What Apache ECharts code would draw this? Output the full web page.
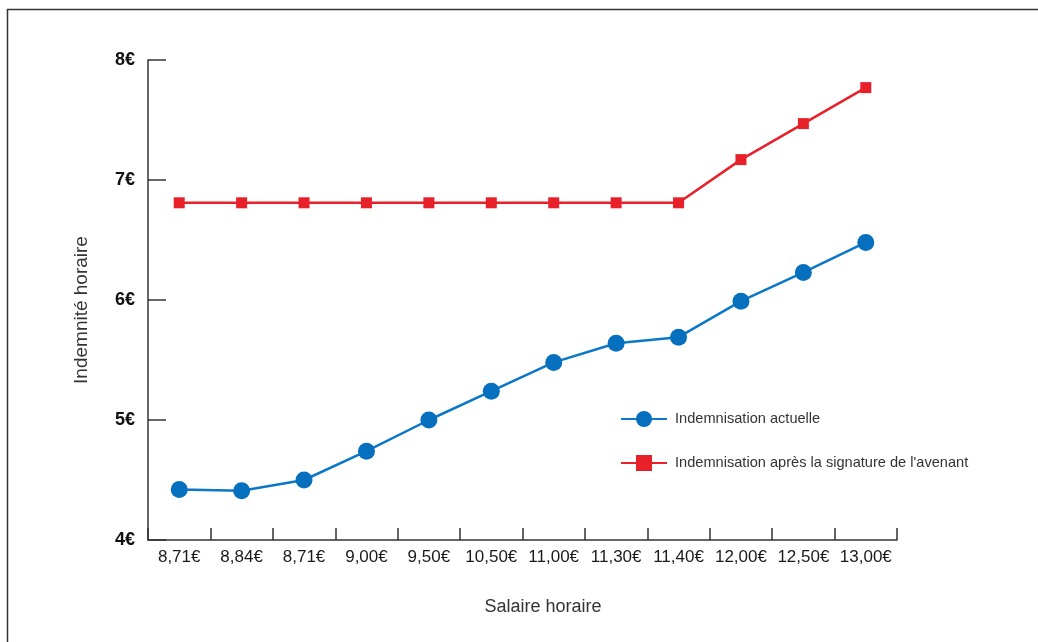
<!DOCTYPE html>
<html>
<head>
<meta charset="utf-8">
<script src="https://cdn.jsdelivr.net/npm/echarts@6/dist/echarts.min.js"></script>
<style>
html,body{margin:0;padding:0;background:#fff;}
#chart{width:1038px;height:642px;}
</style>
</head>
<body>
<div id="chart"></div>
<script>
const categories = ['8,71€','8,84€','8,71€','9,00€','9,50€','10,50€','11,00€','11,30€','11,40€','12,00€','12,50€','13,00€'];
const actuelle = [4.42,4.41,4.50,4.74,5.00,5.24,5.48,5.64,5.69,5.99,6.23,6.48];
const apres = [6.81,6.81,6.81,6.81,6.81,6.81,6.81,6.81,6.81,7.17,7.47,7.77];
const yTicks = ['4€','5€','6€','7€','8€'];
const seriesNames = ['Indemnisation actuelle',"Indemnisation après la signature de l'avenant"];

const FONT = '"Liberation Sans", Arial, sans-serif';
const chart = echarts.init(document.getElementById('chart'));
chart.setOption({
  backgroundColor:'#fff',
  animation:false,
  grid:{left:148,top:60,right:141,bottom:102,containLabel:false},
  graphic:[
    {type:'polyline',shape:{points:[[7.5,642],[7.5,9.5],[1038,9.5]]},style:{stroke:'#333',lineWidth:1.5,fill:null}},
    {type:'text',x:543,y:607,style:{text:'Salaire horaire',font:'18px '+FONT,fill:'#333',textAlign:'center',textVerticalAlign:'middle'}},
    {type:'text',rotation:Math.PI/2,x:82,y:310,style:{text:'Indemnité horaire',font:'19px '+FONT,fill:'#333',textAlign:'center',textVerticalAlign:'middle'}}
  ],
  legend:{
    orient:'vertical',left:615,top:406,itemGap:28,itemWidth:46,itemHeight:20,
    textStyle:{fontSize:14.6,color:'#333',fontFamily:FONT,padding:[0,0,0,3]},
    data:seriesNames
  },
  xAxis:{
    type:'category',data:categories,boundaryGap:true,
    axisLine:{lineStyle:{color:'#333',width:1.5}},
    axisTick:{show:true,inside:true,length:12,interval:0,lineStyle:{color:'#333',width:1.5}},
    axisLabel:{interval:0,margin:9,fontSize:17,color:'#1a1a1a',fontFamily:FONT}
  },
  yAxis:{
    type:'value',min:4,max:8,interval:1,
    axisLine:{show:true,lineStyle:{color:'#333',width:1.5}},
    axisTick:{show:true,inside:true,length:18,lineStyle:{color:'#333',width:1.5}},
    splitLine:{show:false},
    axisLabel:{margin:13,fontSize:18,fontWeight:'bold',color:'#111',fontFamily:FONT,
      formatter:function(v){return yTicks[Math.round(v)-4];}}
  },
  series:[
    {name:seriesNames[0],type:'line',data:actuelle,symbol:'circle',symbolSize:17,
      lineStyle:{color:'#0a78c6',width:2.5},itemStyle:{color:'#0670bf'}},
    {name:seriesNames[1],type:'line',data:apres,symbol:'rect',symbolSize:11,
      lineStyle:{color:'#e8202a',width:2.5},itemStyle:{color:'#e8202a'}}
  ]
});
</script>
</body>
</html>
